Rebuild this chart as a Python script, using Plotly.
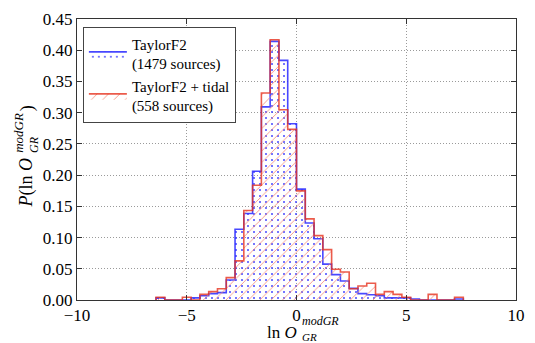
import plotly.graph_objects as go

# ---- data ----
bin_edges = [-6.4, -6.0, -5.6, -5.2, -4.8, -4.4, -4.0, -3.6, -3.2, -2.8, -2.4, -2.0,
             -1.6, -1.2, -0.8, -0.4, 0.0, 0.4, 0.8, 1.2, 1.6, 2.0, 2.4, 2.8, 3.2,
             3.6, 4.0, 4.4, 4.8, 5.2, 5.6, 6.0, 6.4, 6.8, 7.2, 7.6]
f2_counts = [2, 0, 0, 0, 2, 4, 6, 7, 19, 67, 82, 122, 183, 245, 227, 167, 105, 73,
             58, 34, 24, 18, 11, 6, 5, 4, 2, 2, 2, 1, 0, 0, 0, 0, 1]
tidal_counts = [1, 0, 0, 1, 0, 2, 3, 4, 8, 14, 32, 41, 74, 93, 68, 61, 39, 29, 23,
                18, 11, 10, 4, 5, 6, 2, 3, 2, 1, 0, 0, 2, 0, 0, 1]
f2_name = "TaylorF2<br>(1479 sources)"
tidal_name = "TaylorF2 + tidal<br>(558 sources)"
x_ticks = [-10, -5, 0, 5, 10]
y_ticks = [0.00, 0.05, 0.10, 0.15, 0.20, 0.25, 0.30, 0.35, 0.40, 0.45]


def density(counts, edges):
    n = sum(counts)
    return [c / (n * (edges[i + 1] - edges[i])) for i, c in enumerate(counts)]


def step_xy(vals, edges):
    xs = [edges[0]] + edges[:-1] + [edges[-1], edges[-1]]
    ys = [0] + list(vals) + [vals[-1], 0]
    return xs, ys


FONT = "Liberation Serif"
fig = go.Figure()

for counts, name, lc, pc, shape, psize, sol in [
    (f2_counts, f2_name, "rgba(40,40,255,0.85)", "rgba(60,60,255,0.95)", ".", 6, 0.09),
    (tidal_counts, tidal_name, "rgba(230,50,30,0.8)", "rgba(245,135,115,0.9)", "/", 8, 0.11),
]:
    xs, ys = step_xy(density(counts, bin_edges), bin_edges)
    fig.add_trace(go.Scatter(
        x=xs, y=ys, mode="lines", line=dict(shape="hv", color=lc, width=1.6),
        fill="tozeroy", fillcolor="rgba(0,0,0,0)",
        fillpattern=dict(shape=shape, fgcolor=pc, bgcolor="rgba(0,0,0,0)",
                         size=psize, solidity=sol, fillmode="replace"),
        name=name, hoverinfo="skip",
    ))

axis_common = dict(
    showline=True, linecolor="#333", linewidth=1, mirror="ticks",
    ticks="inside", ticklen=5, tickcolor="#333",
    showgrid=True, gridcolor="#9a9a9a", griddash="1px,2px", gridwidth=1,
    zeroline=False, tickfont=dict(family=FONT, size=17, color="black"),
)
fig.update_xaxes(range=[-10, 10], tickvals=x_ticks, **axis_common)
fig.update_yaxes(range=[0, 0.45], tickvals=y_ticks, tickformat=".2f", **axis_common)

# x-axis label with stacked super/subscript
ann = [
    dict(text="ln <i>O</i>", x=(304 - 77) / 448, y=(300 - 333) / 286,
         xanchor="right", yanchor="middle", font=dict(size=17)),
    dict(text="<i>modGR</i>", x=(305 - 77) / 448, y=(300 - 321) / 286,
         xanchor="left", yanchor="middle", font=dict(size=12)),
    dict(text="<i>GR</i>", x=(305 - 77) / 448, y=(300 - 337.5) / 286,
         xanchor="left", yanchor="middle", font=dict(size=11)),
    # y-axis label, rotated
    dict(text="<i>P</i>(ln <i>O</i>", x=(26 - 77) / 448, y=(300 - 153) / 286,
         xanchor="center", yanchor="top", textangle=-90, font=dict(size=18)),
    dict(text="<i>modGR</i>", x=(17 - 77) / 448, y=(300 - 152) / 286,
         xanchor="center", yanchor="bottom", textangle=-90, font=dict(size=13)),
    dict(text="<i>GR</i>", x=(33 - 77) / 448, y=(300 - 152) / 286,
         xanchor="center", yanchor="bottom", textangle=-90, font=dict(size=12)),
    dict(text=")", x=(26 - 77) / 448, y=(300 - 110) / 286,
         xanchor="center", yanchor="bottom", textangle=-90, font=dict(size=18)),
]
for a in ann:
    a.update(xref="paper", yref="paper", showarrow=False)
    a["font"].update(family=FONT, color="black")

fig.update_layout(
    width=535, height=343,
    margin=dict(l=77, r=10, t=14, b=43),
    paper_bgcolor="white", plot_bgcolor="white",
    font=dict(family=FONT, color="black"),
    showlegend=True,
    legend=dict(x=(83 - 77) / 448, y=(300 - 22) / 286, xanchor="left", yanchor="top",
                bgcolor="white", bordercolor="#444", borderwidth=1,
                font=dict(family=FONT, size=15, color="black"),
                tracegroupgap=0, itemwidth=38),
    annotations=ann,
)

fig.write_html("out.html")
